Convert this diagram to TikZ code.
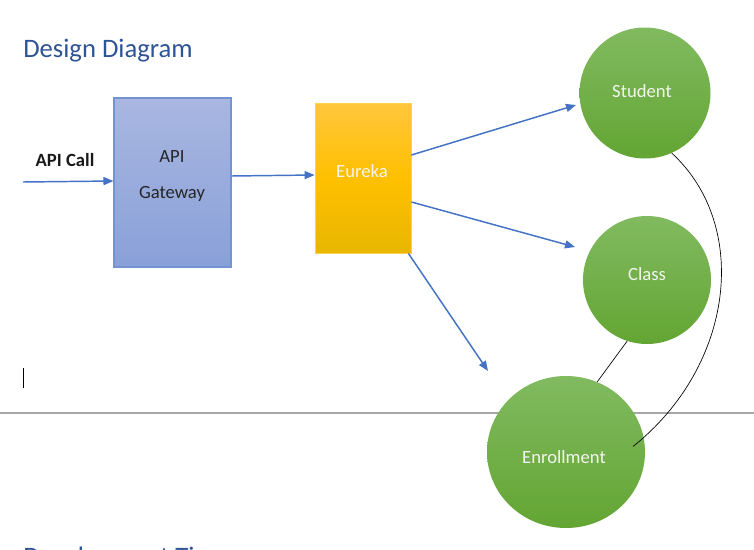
\documentclass[tikz,border=0pt]{standalone}
\usepackage{fontspec}
\setmainfont{Carlito}
\usetikzlibrary{arrows.meta,shapes.geometric}
\definecolor{headblue}{HTML}{2F5496}
\definecolor{arrowblue}{HTML}{4472C4}
\definecolor{gwtop}{HTML}{A9B7E1}
\definecolor{gwbot}{HTML}{89A0D8}
\definecolor{gwline}{HTML}{7493D3}
\definecolor{eutop}{HTML}{FFC63C}
\definecolor{eumid}{HTML}{FFC000}
\definecolor{eubot}{HTML}{E8B600}
\definecolor{euline}{HTML}{FFD24D}
\definecolor{grtop}{HTML}{81BA60}
\definecolor{grbot}{HTML}{63A533}
\definecolor{rulegray}{HTML}{A6A6A6}
\definecolor{offwhite}{HTML}{F4F4F0}
\tikzset{
  flow/.style={draw=arrowblue, line width=1.1pt, -{Triangle[length=7.5pt,width=6pt]}},
  link/.style={draw=black, line width=0.5pt},
  txt/.style={font=\fontsize{14}{16}\selectfont, inner sep=0pt},
  entity/.style={circle, shading=axis, top color=grtop, bottom color=grbot, draw=none,
    text=offwhite, font=\fontsize{14}{16}\selectfont, inner sep=0pt},
}
\begin{document}
\begin{tikzpicture}[x=0.75pt,y=-0.75pt]
\clip (0,0) rectangle (754,550);
\fill[white] (0,0) rectangle (754,550);

% heading and page elements
\node[anchor=base west, text=headblue, font=\fontsize{20}{24}\selectfont, inner sep=0pt] (title) at (23,57) {Design Diagram};
\node[anchor=base west, text=headblue, font=\fontsize{20}{24}\selectfont, inner sep=0pt] (sub) at (23,565) {Development Time};
\draw[rulegray, line width=0.8pt] (0,413) -- (754,413);
\draw[black, line width=0.7pt] (23,368) -- (23,388);

% boxes
\node[draw=gwline, line width=0.8pt, shading=axis, top color=gwtop, bottom color=gwbot,
  minimum width=117*0.75pt, minimum height=169*0.75pt, inner sep=0pt] (gw) at (172.5,182.5) {};
\node[txt, text=black!85] (gwa) at (172,157) {API};
\node[txt, text=black!85] (gwb) at (172,194) {Gateway};

\node[draw=euline, line width=0.6pt, shading=axis, top color=eutop, bottom color=eubot, middle color=eumid,
  minimum width=96*0.75pt, minimum height=150*0.75pt, inner sep=0pt] (eu) at (363,178) {};
\node[txt, text=offwhite] (eut) at (362,171) {Eureka};

% entities
\node[entity, minimum size=131*0.75pt] (st) at (645,93) {};
\node[txt, text=offwhite] (stt) at (642,91) {Student};
\node[entity, minimum size=128*0.75pt] (cl) at (647,280) {};
\node[txt, text=offwhite] (clt) at (647,274) {Class};
\node[entity, ellipse, minimum width=158*0.75pt, minimum height=152*0.75pt] (en) at (566,452) {};
\node[txt, text=offwhite] (ent) at (564,457) {Enrollment};

% API call
\node[anchor=center, font=\bfseries\fontsize{14}{16}\selectfont, inner sep=0pt, text=black!90] (call) at (65,160) {API Call};
\coordinate (in) at (23,182);
\coordinate (stend) at (576,105);
\coordinate (clend) at (575,247);
\coordinate (enend) at (488,371);

\draw[flow] (in) -- (gw.west |- 0,181);
\draw[flow] (gw.east |- 0,176) -- (eu.west |- 0,175);
\draw[flow] (eu.east |- 0,155) -- (stend);
\draw[flow] (eu.east |- 0,202) -- (clend);
\draw[flow] ([xshift=-3*0.75pt]eu.south east) -- (enend);

% relations
\draw[link] (cl.-108) -- (en.66);
\draw[link] (st.-66) .. controls (750,225) and (735,365) .. ([xshift=-12*0.75pt]en.4);
\end{tikzpicture}
\end{document}
